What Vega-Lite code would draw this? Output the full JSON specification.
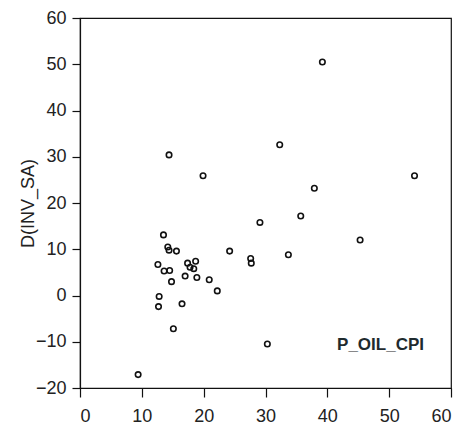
{
  "$schema": "https://vega.github.io/schema/vega-lite/v6.json",
  "autosize": "none",
  "width": 371,
  "height": 370,
  "padding": {"left": 80, "top": 18, "right": 10, "bottom": 37},
  "background": "white",
  "config": {
    "view": {"stroke": "#111", "strokeWidth": 1.2},
    "axis": {
      "grid": false,
      "domainColor": "#111",
      "domainWidth": 1.2,
      "tickColor": "#111",
      "tickSize": 8,
      "tickWidth": 1.2,
      "labelFont": "Liberation Sans",
      "labelFontSize": 18,
      "labelColor": "#222",
      "titleFont": "Liberation Sans",
      "titleFontWeight": "normal",
      "titleColor": "#222"
    }
  },
  "datasets": {
    "points": [
      {"p_oil_cpi": 9.4, "d_inv_sa": -17.1},
      {"p_oil_cpi": 12.6, "d_inv_sa": 6.7},
      {"p_oil_cpi": 12.8, "d_inv_sa": -0.2},
      {"p_oil_cpi": 12.7, "d_inv_sa": -2.4},
      {"p_oil_cpi": 13.5, "d_inv_sa": 13.1},
      {"p_oil_cpi": 13.6, "d_inv_sa": 5.3},
      {"p_oil_cpi": 14.2, "d_inv_sa": 10.5},
      {"p_oil_cpi": 14.4, "d_inv_sa": 9.8},
      {"p_oil_cpi": 14.4, "d_inv_sa": 30.4},
      {"p_oil_cpi": 14.5, "d_inv_sa": 5.4},
      {"p_oil_cpi": 14.8, "d_inv_sa": 3.0},
      {"p_oil_cpi": 15.1, "d_inv_sa": -7.2},
      {"p_oil_cpi": 15.6, "d_inv_sa": 9.6},
      {"p_oil_cpi": 16.5, "d_inv_sa": -1.8},
      {"p_oil_cpi": 17.0, "d_inv_sa": 4.2},
      {"p_oil_cpi": 17.4, "d_inv_sa": 7.0},
      {"p_oil_cpi": 17.8, "d_inv_sa": 6.1},
      {"p_oil_cpi": 18.4, "d_inv_sa": 5.8},
      {"p_oil_cpi": 18.7, "d_inv_sa": 7.4},
      {"p_oil_cpi": 18.9, "d_inv_sa": 3.9},
      {"p_oil_cpi": 19.9, "d_inv_sa": 25.9},
      {"p_oil_cpi": 20.9, "d_inv_sa": 3.4},
      {"p_oil_cpi": 22.2, "d_inv_sa": 1.0},
      {"p_oil_cpi": 24.2, "d_inv_sa": 9.6},
      {"p_oil_cpi": 27.6, "d_inv_sa": 8.0},
      {"p_oil_cpi": 27.7, "d_inv_sa": 7.0},
      {"p_oil_cpi": 29.1, "d_inv_sa": 15.8},
      {"p_oil_cpi": 30.3, "d_inv_sa": -10.5},
      {"p_oil_cpi": 32.3, "d_inv_sa": 32.6},
      {"p_oil_cpi": 33.7, "d_inv_sa": 8.8},
      {"p_oil_cpi": 35.7, "d_inv_sa": 17.2},
      {"p_oil_cpi": 37.9, "d_inv_sa": 23.2},
      {"p_oil_cpi": 39.2, "d_inv_sa": 50.5},
      {"p_oil_cpi": 45.3, "d_inv_sa": 12.0},
      {"p_oil_cpi": 54.1, "d_inv_sa": 25.9}
    ],
    "label": [
      {"p_oil_cpi": 48.6, "d_inv_sa": -10.7, "name": "P_OIL_CPI"}
    ]
  },
  "layer": [
    {
      "data": {"name": "points"},
      "mark": {"type": "point", "shape": "circle", "filled": false, "size": 30, "stroke": "#111", "strokeWidth": 1.6, "opacity": 1},
      "encoding": {
        "x": {
          "field": "p_oil_cpi",
          "type": "quantitative",
          "scale": {"domain": [0, 60], "nice": false, "zero": false},
          "axis": {"title": null, "values": [0, 10, 20, 30, 40, 50, 60], "tickSize": 9, "labelPadding": 10}
        },
        "y": {
          "field": "d_inv_sa",
          "type": "quantitative",
          "scale": {"domain": [-20, 60], "nice": false, "zero": false},
          "axis": {
            "title": "D(INV_SA)",
            "titleFontSize": 18,
            "titlePadding": -2,
            "values": [-20, -10, 0, 10, 20, 30, 40, 50, 60],
            "labelPadding": 6
          }
        }
      }
    },
    {
      "data": {"name": "label"},
      "mark": {"type": "text", "font": "Liberation Sans", "fontWeight": "bold", "fontSize": 17, "color": "#1e2a2e", "align": "center", "baseline": "middle"},
      "encoding": {
        "x": {"field": "p_oil_cpi", "type": "quantitative"},
        "y": {"field": "d_inv_sa", "type": "quantitative"},
        "text": {"field": "name"}
      }
    }
  ]
}
